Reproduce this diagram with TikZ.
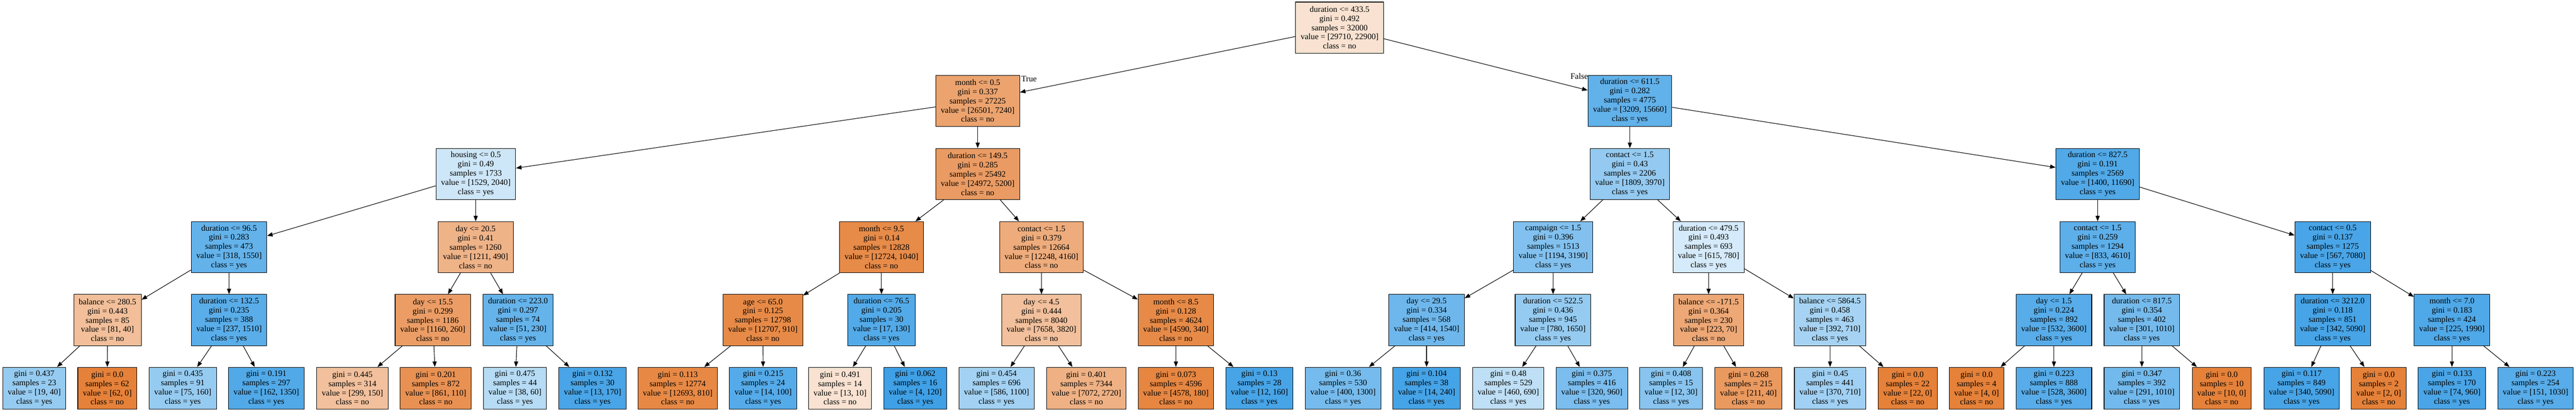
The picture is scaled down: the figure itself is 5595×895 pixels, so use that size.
\documentclass[tikz,border=0pt]{standalone}
\usepackage{fontspec}
\setmainfont{Liberation Serif}
\usetikzlibrary{arrows.meta}
\definecolor{cno}{RGB}{229,129,57}
\definecolor{cyes}{RGB}{57,157,229}

\begin{document}
\begin{tikzpicture}[x=1pt, y=-1pt, >={Triangle[length=12pt,width=9pt]},
  box/.style={draw=black, line width=1.2pt, align=center, inner xsep=11pt, inner ysep=0pt, minimum height=111pt, font=\fontsize{18}{20}\selectfont},
  leaf/.style={box, minimum height=91pt},
  lbl/.style={font=\fontsize{18}{20}\selectfont, inner sep=0pt}]
\useasboundingbox (0,0) rectangle (5595,895);
% split nodes
\foreach \nm/\xx/\yy/\tst/\gi/\sm/\val/\cl/\pc in {
 a1/2909.5/60/duration <= 433.5/0.492/32000/{29710, 22900}/no/23,
 b1/2123.5/219/month <= 0.5/0.337/27225/{26501, 7240}/no/73,
 b2/3540/219/duration <= 611.5/0.282/4775/{3209, 15660}/yes/80,
 c1/1033.5/378/housing <= 0.5/0.49/1733/{1529, 2040}/yes/25,
 c2/2123.5/378/duration <= 149.5/0.285/25492/{24972, 5200}/no/79,
 c3/3540/378/contact <= 1.5/0.43/2206/{1809, 3970}/yes/54,
 c4/4556/378/duration <= 827.5/0.191/2569/{1400, 11690}/yes/88,
 d1/497.5/537/duration <= 96.5/0.283/473/{318, 1550}/yes/79,
 d2/1033/537/day <= 20.5/0.41/1260/{1211, 490}/no/60,
 d3/1914.5/537/month <= 9.5/0.14/12828/{12724, 1040}/no/92,
 d4/2262/537/contact <= 1.5/0.379/12664/{12248, 4160}/no/66,
 d5/3373.5/537/campaign <= 1.5/0.396/1513/{1194, 3190}/yes/63,
 d6/3711/537/duration <= 479.5/0.493/693/{615, 780}/yes/21,
 d7/4556/537/contact <= 1.5/0.259/1294/{833, 4610}/yes/82,
 d8/5066.5/537/contact <= 0.5/0.137/1275/{567, 7080}/yes/92,
 e1/233.5/695.5/balance <= 280.5/0.443/85/{81, 40}/no/51,
 e2/497.5/695.5/duration <= 132.5/0.235/388/{237, 1510}/yes/84,
 e3/940/695.5/day <= 15.5/0.299/1186/{1160, 260}/no/78,
 e4/1125/695.5/duration <= 223.0/0.297/74/{51, 230}/yes/78,
 e5/1657/695.5/age <= 65.0/0.125/12798/{12707, 910}/no/93,
 e6/1914.5/695.5/duration <= 76.5/0.205/30/{17, 130}/yes/87,
 e7/2262/695.5/day <= 4.5/0.444/8040/{7658, 3820}/no/50,
 e8/2554/695.5/month <= 8.5/0.128/4624/{4590, 340}/no/93,
 e9/3098.5/695.5/day <= 29.5/0.334/568/{414, 1540}/yes/73,
 e10/3373/695.5/duration <= 522.5/0.436/945/{780, 1650}/yes/53,
 e11/3711/695.5/balance <= -171.5/0.364/230/{223, 70}/no/69,
 e12/3974.5/695.5/balance <= 5864.5/0.458/463/{392, 710}/yes/45,
 e13/4461/695.5/day <= 1.5/0.224/892/{532, 3600}/yes/85,
 e14/4652/695.5/duration <= 817.5/0.354/402/{301, 1010}/yes/70,
 e15/5066.5/695.5/duration <= 3212.0/0.118/851/{342, 5090}/yes/93,
 e16/5325.5/695.5/month <= 7.0/0.183/424/{225, 1990}/yes/89}
 \node[box, fill=c\cl!\pc!white] (\nm) at (\xx,\yy) {\tst\\gini = \gi\\samples = \sm\\value = [\val]\\class = \cl};
% leaves
\foreach \xx/\gi/\sm/\val/\cl/\pc [count=\i] in {
 74.5/0.437/23/{19, 40}/yes/53, 233/0.0/62/{62, 0}/no/100,
 397/0.435/91/{75, 160}/yes/53, 578.5/0.191/297/{162, 1350}/yes/88,
 765.5/0.445/314/{299, 150}/no/50, 946.5/0.201/872/{861, 110}/no/87,
 1118.5/0.475/44/{38, 60}/yes/37, 1287/0.132/30/{13, 170}/yes/92,
 1472/0.113/12774/{12693, 810}/no/94, 1657.5/0.215/24/{14, 100}/yes/86,
 1824.5/0.491/14/{13, 10}/no/23, 1988/0.062/16/{4, 120}/yes/97,
 2164.5/0.454/696/{586, 1100}/yes/47, 2359.5/0.401/7344/{7072, 2720}/no/62,
 2554/0.073/4596/{4578, 180}/no/96, 2735.5/0.13/28/{12, 160}/yes/93,
 2917/0.36/530/{400, 1300}/yes/69, 3098.5/0.104/38/{14, 240}/yes/94,
 3276/0.48/529/{460, 690}/yes/33, 3457.5/0.375/416/{320, 960}/yes/67,
 3629.5/0.408/15/{12, 30}/yes/60, 3797.5/0.268/215/{211, 40}/no/81,
 3975/0.45/441/{370, 710}/yes/48, 4143.5/0.0/22/{22, 0}/no/100,
 4293/0.0/4/{4, 0}/no/100, 4461/0.223/888/{528, 3600}/yes/85,
 4652/0.347/392/{291, 1010}/yes/71, 4825.5/0.0/10/{10, 0}/no/100,
 4999/0.117/849/{340, 5090}/yes/93, 5166.5/0.0/2/{2, 0}/no/100,
 5325.5/0.133/170/{74, 960}/yes/92, 5507/0.223/254/{151, 1030}/yes/85}
 \node[leaf, fill=c\cl!\pc!white] (f\i) at (\xx,843.5) {gini = \gi\\samples = \sm\\value = [\val]\\class = \cl};
% edges, two children each
\foreach \pa/\ch/\k in {a/b/1,b/c/2,c/d/4,d/e/8,e/f/16} {
 \foreach \i in {1,...,\k} {
  \pgfmathtruncatemacro\j{2*\i-1}
  \pgfmathtruncatemacro\jj{2*\i}
  \draw[->, line width=1.2pt] (\pa\i) -- (\ch\j);
  \draw[->, line width=1.2pt] (\pa\i) -- (\ch\jj);
 }
}
\node[lbl] (tlab) at (2235,172) {True};
\node[lbl] (flab) at (3430,166) {False};
\end{tikzpicture}
\end{document}
